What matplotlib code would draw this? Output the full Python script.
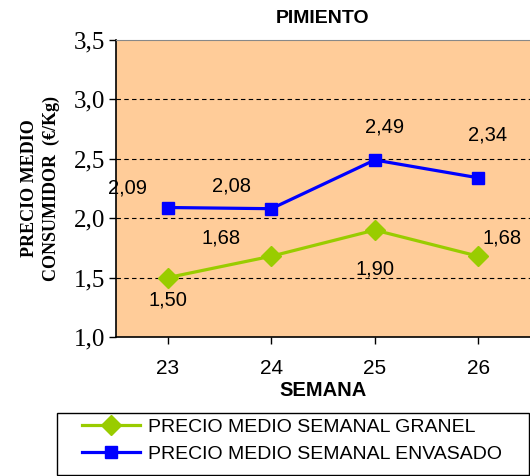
import matplotlib.pyplot as plt
from matplotlib.patches import Rectangle

semanas = [23, 24, 25, 26]
granel = [1.50, 1.68, 1.90, 1.68]
envasado = [2.09, 2.08, 2.49, 2.34]
granel_labels = ["1,50", "1,68", "1,90", "1,68"]
envasado_labels = ["2,09", "2,08", "2,49", "2,34"]
yticks = [1.0, 1.5, 2.0, 2.5, 3.0, 3.5]
ytick_labels = ["1,0", "1,5", "2,0", "2,5", "3,0", "3,5"]

# label offsets in points
granel_off = [(0, -16), (-36, 13), (0, -28), (17, 13)]
envasado_off = [(-29, 14), (-29, 16), (7, 24), (7, 31)]

fig = plt.figure(figsize=(5.30, 4.76), dpi=100)
ax = fig.add_axes([0.219, 0.292, 0.781, 0.624])
ax.set_facecolor('#FFCC99')

ax.plot(semanas, granel, color='#99CC00', lw=2.3, marker='D', ms=10,
        label='PRECIO MEDIO SEMANAL GRANEL', zorder=3)
ax.plot(semanas, envasado, color='#0000FF', lw=2.3, marker='s', ms=8,
        label='PRECIO MEDIO SEMANAL ENVASADO', zorder=3)

for x, y, t, o in zip(semanas, granel, granel_labels, granel_off):
    ax.annotate(t, (x, y), xytext=o, textcoords='offset points', ha='center',
                va='center', fontsize=14.5, family='Liberation Sans')
for x, y, t, o in zip(semanas, envasado, envasado_labels, envasado_off):
    ax.annotate(t, (x, y), xytext=o, textcoords='offset points', ha='center',
                va='center', fontsize=14.5, family='Liberation Sans')

ax.set_xlim(22.5, 26.5)
ax.set_ylim(1.0, 3.5)
ax.set_yticks(yticks)
ax.set_yticklabels(ytick_labels, family='Liberation Serif', fontsize=18)
ax.set_xticks(semanas)
ax.set_xticklabels([str(s) for s in semanas], family='Liberation Sans', fontsize=15)
ax.tick_params(axis='y', direction='out', length=5, width=1, pad=3)
ax.tick_params(axis='x', direction='out', length=5, width=1, pad=11)

for y in [1.5, 2.0, 2.5, 3.0]:
    ax.axhline(y, color='black', lw=0.8, ls=(0, (4, 3)), zorder=1)

ax.spines['top'].set_color('#888888')
ax.spines['right'].set_visible(False)
ax.spines['left'].set_linewidth(1.2)
ax.spines['bottom'].set_linewidth(1.2)

ax.set_title('PIMIENTO', fontsize=14, fontweight='bold', family='Liberation Sans', pad=12)
ax.set_xlabel('SEMANA', fontsize=14.5, fontweight='bold', family='Liberation Sans', labelpad=2)
ax.set_ylabel('PRECIO MEDIO\nCONSUMIDOR  (€/Kg)', fontsize=13, fontweight='bold',
              family='Liberation Serif', labelpad=10, linespacing=1.3)

# legend box drawn separately, legend entries placed inside it
fig.patches.append(Rectangle((0.1075, 0.002), 0.8905, 0.13, transform=fig.transFigure,
                             facecolor='white', edgecolor='black', lw=1.0))
fig.legend(loc='upper left', bbox_to_anchor=(0.155, 0.121),
           handlelength=3.0, handletextpad=0.4, frameon=False, borderaxespad=0,
           borderpad=0, prop={'family': 'Liberation Sans', 'size': 14},
           labelspacing=0.48)

fig.savefig('out.png', dpi=100)
